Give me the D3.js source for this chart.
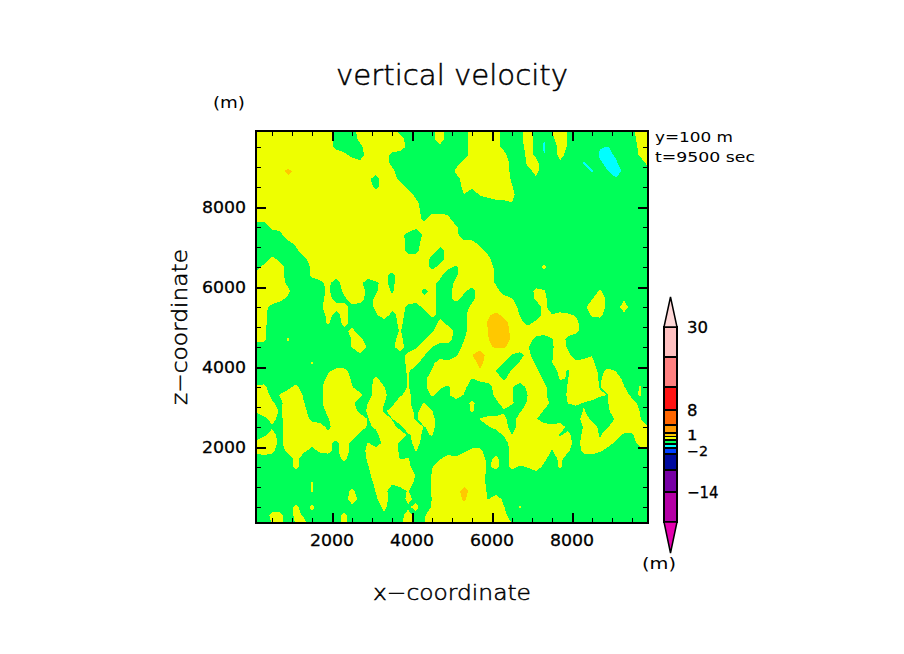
<!DOCTYPE html>
<html>
<head>
<meta charset="utf-8">
<script src="https://cdn.jsdelivr.net/npm/d3@7"></script>
<style>
  html, body { margin: 0; background: #fff; }
  text { font-family: "DejaVu Sans", sans-serif; fill: #000; }
</style>
</head>
<body>
<div id="chart"></div>
<script>
// w on the 50x50 model grid (200 m spacing), in quarter m/s.
// rows run top (z=9900) to bottom (z=100), one array per quadrant
const wNW = [
  [2,2,2,2,2,2,2,2,2,1,-1,-2,-1,1,2,2,2,2,-1,-2,-2,-2,-1,2,-2],
  [2,2,2,2,2,2,2,2,2,2,-1,-2,-2,1,2,2,2,2,1,-1,-2,-2,-1,2,-2],
  [2,2,2,2,2,2,2,2,2,2,-1,-2,-2,-1,2,2,2,2,2,-1,-2,-2,-2,-1,-2],
  [2,2,2,2,2,2,2,2,2,2,2,1,-1,-2,2,2,2,-1,-2,-2,-2,-2,-2,-2,-2],
  [2,2,2,2,1,2,2,2,2,2,2,2,2,1,2,2,2,-1,-2,-2,-2,-2,-2,-2,-2],
  [2,2,2,3,5,3,2,2,2,2,2,2,2,2,2,2,2,1,-2,-2,-2,-2,-2,-2,-2],
  [2,2,2,2,3,2,2,2,2,2,2,2,2,2,1,-2,3,2,-1,-2,-2,-2,-2,-2,-2],
  [2,2,2,2,2,2,2,2,2,2,2,2,2,2,2,-1,2,2,2,-1,-2,-2,-2,-2,-2],
  [2,2,2,2,2,2,2,2,2,2,2,2,2,2,2,2,2,2,2,2,-1,-2,-2,-2,-2],
  [2,2,2,2,2,2,2,2,2,2,2,2,2,2,2,2,2,2,2,2,1,-2,-2,-2,-2],
  [2,2,2,2,2,2,2,2,2,2,2,2,2,2,2,2,2,2,2,2,2,-2,-1,-1,-1],
  [1,1,2,2,2,2,2,2,2,2,2,2,2,2,2,2,2,2,2,2,2,-1,2,2,1],
  [-2,-2,1,1,2,2,2,2,2,2,2,2,2,2,2,2,2,-0.2,2,2,1,2,2,2,2],
  [-2,-2,-2,-1,2,2,2,2,2,2,2,2,2,2,2,2,2,2,1,-1,-3,1,2,2,2],
  [-2,-2,-2,-2,-1,1,2,2,2,2,2,2,2,2,2,2,2,2,2,-1,-1,1,2,1,2],
  [-2,-2,-2,-2,-2,-1,2,2,2,2,2,2,2,2,2,2,2,2,2,-1,-1,2,1,-1,1],
  [-2,-2,1,-1,-2,-2,-1,2,2,2,2,2,2,2,2,2,2,2,2,2,2,2,-1,-1,1],
  [-1,1,2,1,-1,-2,-3,1,2,2,2,2,2,2,2,2,2,2,2,2,2,2,-1,1,1],
  [1,2,2,1,-1,-2,-3,1,2,2,2,2,2,2,2,2,1,-1,2,2,-0.2,2,2,1,-2],
  [2,2,2,2,-1,-2,-2,-2,-1,1,-2,2,2,1,-2,-0.5,1,-1,2,2,2,2,1,-1,-2],
  [2,2,2,2,1,-3,-2,-2,-2,1,-3,1,2,2,-1,-0.5,2,-0.5,2,2,2,-1,1,-1,-2],
  [2,2,2,1,-1,-2,-2,-2,-1,1,-1,-1,2,2,-2,1,2,1,2,2,2,1,1,-1,-1],
  [2,1,-1,-2,-2,-2,-2,-2,-1,2,1,1,-1,-2,-2,1,2,1,2,-1,-2,1,1,-1,-2],
  [2,1,-2,-2,-2,-2,-2,-2,-2,1,-1,1,-1,-2,-2,-0.5,2,-1,1,-1,-2,-2,1,-1,-2],
  [2,1,-2,-2,-2,-2,-2,-2,-2,0.5,-2,1,-1,-2,-2,-2,-2,-2,1,-2,-2,-2,-2,1,-1]
];
const wNE = [
  [-2,-1,1,2,2,1,-1,-2,-1,2,-1,-2,0.2,2,-0.2,-2,-2,-2,-2,-2,-2,-2,-1,2,2],
  [-2,-1,1,2,2,1,-1,-2,-1,2,-1,-4.1,-1,2,-0.2,-2,-2,-2,-2,-2,-2,-2,-1,1,2],
  [-2,-1,1,2,2,1,-1,-2,-2,2,-1,-4.3,-2,1,-0.2,-2,-2,-2,-3.8,-4.1,-3,-2,-2,1,2],
  [-2,-1,1,2,2,2,1,-2,-2,1,-0.5,-4.1,-2,1,-1,-2,-2,-2,-4.5,-5,-3.5,-2,-2,0.5,2],
  [-1,1,2,2,2,2,2,-1,-3,1,1,-2,-2,-0.5,-2,-2,-4.5,-2,-3.5,-5,-4.5,-2,-2,-2,1],
  [0.5,2,2,2,2,2,2,-1,-2,-1,1,-2,-2,-2,-2,-2,-2,-4.3,-2.5,-4,-5,-3.5,-2,-2,-0.5],
  [-1,1,2,2,2,2,2,-0.5,-2,-2,-0.5,-2,-2,-2,-2,-2,-2,-3,-2,-3,-3.8,-2.5,-2,-2,-2],
  [-2,1,0.5,2,2,2,2,0.2,-2,-2,-2,-2,-2,-2,-2,-2,-2,-2,-2,-2,-2,-2,-2,-2,-2],
  [-2,-0.1,-2,0.2,1,1.5,2,1,-2,-2,-2,-2,-2,-2,-2,-2,-2,-2,-2,-2,-2,-2,-2,-2,-2],
  [-2,-2,-2,-2,-2,-1,-1,-0.1,-2,-2,-2,-2,-2,-2,-2,-2,-2,-2,-2,-2,-2,-2,-2,-2,-2],
  [-2,-2,-2,-2,-2,-2,-2,-2,-2,-2,-2,-2,-2,-2,-2,-2,-2,-2,-2,-2,-2,-2,-2,-2,-2],
  [-2,-2,-2,-2,-2,-2,-2,-2,-2,-2,-2,-2,-2,-2,-2,-2,-2,-2,-2,-2,-2,-2,-2,-2,-2],
  [0.5,-2,-2,-2,-2,-2,-2,-2,-2,-2,-2,-2,-2,-2,-2,-2,-2,-2,-2,-2,-2,-2,-2,-2,-2],
  [1,-2,-2,-2,-2,-2,-2,-2,-2,-2,-2,-2,-2,-2,-2,-2,-2,-2,-2,-2,-2,-2,-2,-2,-2],
  [2,1,1,-1,-2,-2,-2,-2,-2,-2,-2,-2,-2,-2,-2,-2,-2,-2,-2,-2,-2,-2,-2,-2,-2],
  [2,2,2,1,-1,-2,-2,-2,-2,-2,-2,-2,-2,-2,-2,-2,-2,-2,-2,-2,-2,-2,-2,-2,-2],
  [2,2,2,2,1,-2,-2,-2,-2,-2,-2,-2,-2,-2,-2,-2,-2,-2,-2,-2,-2,-2,-2,-2,-2],
  [-0.5,2,2,2,2,-1,-2,-2,-2,-2,-2,0.7,-2,-2,-2,-2,-2,-2,-2,-2,-2,-2,-2,-2,-2],
  [-0.5,2,2,2,2,-0.5,-2,-2,-2,-2,-2,-2,-2,-2,-2,-2,-2,-2,-2,-2,-2,-2,-2,-2,-2],
  [1,2,2,2,2,-0.5,-2,-2,-2,-2,-2,-2,-2,-2,-2,-2,-2,-2,-2,-2,-2,-2,-2,-2,-2],
  [2,0.5,-1.5,2,2,1.5,-2,-2,-2,-2,1,0.3,-2,-2,-2,-2,-2,-2,0.5,-2,-2,-2,-2,-2,-2],
  [1,-1,-1,2,2,2,2,0.2,-2,-2,0.5,1,-2,-2,-2,-2,-2,-0.2,2,-1,-2,-0.5,-2,-2,-2],
  [-2,-2,1,2,2,2,2,2,-1,-2,-2,1,-2,-2,-2,-2,-1,2,2,-1,-2,2,-2,-2,-2],
  [-2,-1,2,2,3.5,5,3,2,-0.2,-2,-2,1,0.2,1,0.5,-0.3,-2,0.5,1,-2,-2,-1,-2,-2,-2],
  [-2,-1,2,2,4.3,6,5,3,1,-1,1,2,2,2,2,1,-2,-2,-2,-2,-2,-2,-2,-2,-2]
];
const wSW = [
  [2,1,-3,-2,-1,-2,-2,-2,-2,-2,-2,-1,1,-2,-2,-2,-2,-2,0.3,-2,-2,-2,-0.5,2,2],
  [1,1,-3,-2,0.3,-2,-2,-2,-2,-2,-2,-2,0.2,1,-2,-2,-2,-1,1,-2,-2,-0.5,2,2,2],
  [-2,-2,-2,-2,-0.5,-2,-2,-2,-2,-2,-2,-2,0.2,2,-0.5,-2,-2,-0.5,1,-1,-0.5,2,0.1,-2,-2],
  [-2,-2,-2,-2,-2,-2,-2,-2,-2,-2,-2,-2,-2,-0.5,-2,-2,-2,-2,-1,0.5,2,0.3,-2,-2,-2],
  [-2,-2,-2,-2,-2,-2,-2,0.3,-2,-2,-2,-2,-2,-2,-2,-2,-2,-2,-2,1,1,-2,-1,2,1],
  [-2,-2,-2,-2,-2,-2,-2,-2,-2,-0.5,1,1,-1,-2,-2,-2,-2,-2,-2,0.5,-2,-2,0.3,2,2],
  [-2,-2,-2,-2,-2,-2,-2,-2,-2,1,2,2,-0.5,-2,-2,1,-2,-2,-2,0.3,-2,-1,2,2,2],
  [0.5,1,-2,-2,-1,1,-2,-2,-1,2,2,2,0.2,-2,-2,2,0.2,-2,-2,0.3,-2,-1,2,0.4,-0.5],
  [0.5,2,-1,0.2,2,2,-0.5,-2,-1,2,2,2,2,1,-2,2,1,-2,-0.5,1,-2,-2,0.5,-1,-0.5],
  [0.5,2,0.5,-1,2,2,0.1,-2,-1,2,2,2,1,-2,0.1,2,0.1,-1,2,1,-2,0.2,-2,-2,-2],
  [0.5,2,2,-0.5,2,2,1,-2,-2,1,2,2,2,-1,0.3,2,-0.5,1,2,2,-1,2,0.1,-2,-2],
  [-2,-1,1,-1,2,2,2,-1,-2,-0.3,2,2,2,2,-0.2,2,2,-0.1,2,2,-0.5,2,1,-2,-2],
  [-2,-2,-0.3,-1,2,2,2,2,2,-1,2,2,2,2,-0.5,0.5,2,1,-1,2,2,-0.2,1,-2,-2],
  [-2,-0.5,1,-1,2,2,2,2,2,1,2,2,2,-1,-2,-1,2,2,2,-0.5,1,-0.5,0.2,-2,-2],
  [1,2,2,-1,2,2,2,1,2,1,-1,2,-1,-2,0.2,-2,1,2,-0.5,-1,1,-1,-2,-2,-2],
  [1,2,1,-2,1,1,0.5,-1,0.5,1,-1,2,-1,-2,1,2,2,2,-0.5,-2,0.1,-2,-2,-2,-2],
  [-2,-2,-2,-2,-2,1,-2,-2,-2,-2,-2,1,-2,-2,0.5,2,2,2,-0.1,0.3,-2,-2,-2,-0.2,2],
  [-2,-2,-2,-2,-2,1,-2,-2,-2,-2,-2,-2,-2,-2,-0.2,2,2,2,2,1,-2,-2,-0.2,2,2],
  [-2,-2,-2,-2,-2,-2,-2,-2,-2,-2,-2,-2,-2,-2,-1,2,2,2,2,2,-0.2,-2,0.2,2,2],
  [-2,-2,-2,-2,-2,-2,-2,0.3,-2,-2,-2,-2,-2,-2,-2,1,2,0.5,1,2,-1,-2,0.2,2,2],
  [-2,-2,-2,-2,-2,-2,-2,0.3,-2,-2,-2,-2,1,-2,-2,0.2,1.5,-2,-1,0.2,-2,-2,0.2,2,2],
  [-2,-2,-2,-2,-2,-2,-2,-2,-2,0.2,-2,-2,2,-1,-2,-0.5,2,-2,-2,1,-1,-2,0.1,2,2],
  [-2,-2,-2,-2,-2,1,-2,1,-2,-2,-2,-2,-1,-2,-2,-2,1,-2,-2,-0.5,1,-2,0.2,2,2],
  [-2,-2,1,1,-2,1,-0.5,-1,-2,-2,-2,1,-2,-2,-2,-2,-0.5,-2,-1,1,-1,-0.5,2,2,2],
  [0.2,-2,0.2,1,-2,0.3,1,-2,-2,-2,-2,1,-2,-2,-2,-2,-2,-2,-0.5,1,-1,-0.2,2,2,2]
];
const wSE = [
  [-1,-1,2,3,4,5,5,3.5,2,2,2,2,2,2,2,1,-2,-2,-2,-2,-2,-2,0.2,-2,-2],
  [-2,-0.2,2,3,3.9,5,5,3.7,2,2,-1,-2,-0.2,2,-1,-2,-2,-2,-2,-2,-2,-2,-2,-2,-2],
  [-2,1,2,3,3.5,4.4,4.4,2.5,2,0.2,-2,-2,-0.5,2,-0.5,-2,-2,-2,-2,-2,-2,-2,-2,-2,-2],
  [-0.5,2,3.9,5.5,3,2,2,-0.2,-1,1,-2,-2,-0.2,2,1,-2,-2,-0.2,-2,-2,-2,-2,-2,-2,-2],
  [2,2,3,4.6,3,2,-0.1,-1,0.3,2,-0.5,-2,-0.1,2,2,1,2,1,-2,-2,-2,-2,-2,-2,-2],
  [2,2,2,3.8,2,-0.1,-1,0.2,2,2,1,-2,-2,1,-0.3,2,2,2,-1,1,-0.1,-2,-2,-2,-2],
  [2,2,-0.2,1,1,2,-0.5,2,2,2,2,-0.5,-2,0.2,-0.1,2,2,2,-0.5,2,2,-1,-2,-2,-2],
  [2,1,-2,-2,-1,1,2,0.2,-2,1,2,1,-2,-2,0.3,2,2,2,-0.3,2,2,0.2,-2,0.3,-2],
  [2,-0.2,-2,-2,-2,1,2,0.3,-2,0.1,2,1,-2,-2,0.5,2,2,2,0.6,-0.1,2,2,-1,0.3,-2],
  [-2,-2,1,-2,-2,-1,2,0.5,-2,0.5,2,2,-1,-2,0.1,1,-0.2,-1,-2,-0.1,2,2,1.5,-1,-2],
  [-2,-2,0.5,-2,-2,-2,-0.5,-2,-0.5,2,2,-0.3,-2,-2,-2,-2,0.3,-2,-2,-0.5,2,2,2,-0.1,-2],
  [-2,-2,-2,0.2,1,1,1,-2,2,2,0.3,-2,-2,-2,-2,-2,2,-1,-2,-2,0.5,2,2,0.2,-2],
  [-2,-2,-2,-2,-0.2,1,2,-2,2,2,2,2,1,2,-1,-2,0.3,2,-1,-0.2,2,2,2,2,0.3],
  [-2,-2,-2,-2,-2,-2,0.5,0.1,2,2,2,2,2,-0.3,1,-2,1,2,-0.3,2,1,-0.5,-0.5,2,2],
  [-2,-2,-2,-2,-2,-2,-2,2,2,2,2,2,2,2,1,-1,1,2,0.3,1,-0.5,-2,-1,1,2],
  [-2,-0.5,1,1,-2,-1,-2,1,2,2,2,2,-0.3,2,0.5,-2,1,1.5,0.3,-1,-2,-2,-2,-1,-1],
  [1,2,2,2,-1,1,-2,1,2,2,2,1,-2,1,-2,-2,-2,-2,-2,-2,-2,-2,-2,-2,-2],
  [2,2,2,2,-0.5,1,-2,1,-0.5,0.2,2,-1,-2,0.5,-2,-2,-2,-2,-2,-2,-2,-2,-2,-2,-2],
  [2,2,2,2,-1,-2,-2,-2,-2,-2,-2,-2,-2,-2,-2,-2,-2,-2,-2,-2,-2,-2,-2,-2,-2],
  [2,3,2,2,-1,-2,-2,-2,-2,-2,-2,-2,-2,-2,-2,-2,-2,-2,-2,-2,-2,-2,-2,-2,-2],
  [3,5,3,2,-0.5,-2,-2,-2,-2,-2,-2,-2,-2,-2,-2,-2,-2,-2,-2,-2,-2,-2,-2,-2,-2],
  [2.5,4.5,2.5,2,-0.2,2,-1,-2,-2,-2,-2,-2,-2,-2,-2,-2,-2,-2,-2,-2,-2,-2,-2,-2,-2],
  [2,3,2,2,1.5,2,0.1,-2,0.3,-2,-2,-2,-2,-2,-2,-2,-2,-2,-2,-2,-2,-2,-2,-2,-2],
  [2,2,2,2,2,2,1,-2,-2,-2,-2,-2,-2,-2,-2,-2,-2,-2,-2,-2,-2,-2,-2,-2,-2],
  [2,2,2,2,2,2,2,-0.1,-2,-2,-2,-2,-2,-2,-2,0.1,-2,-2,-2,-2,-2,-2,-2,0.1,-2]
];

const majorTicks = [2000, 4000, 6000, 8000];
const minorTicks = [500, 1000, 1500, 2500, 3000, 3500, 4500, 5000, 5500, 6500, 7000, 7500, 8500, 9000, 9500];

// colour bar, top to bottom
const barLevels = [30, 20, 14, 8, 4, 2, 1, 0, -1, -2, -4, -8, -14, -30];
const barLabels = [30, 8, 1, -2, -14];
const barColors = ["#ffc0c0", "#ff8080", "#ff1414", "#ff6600", "#ff9900", "#ffc800", "#eeff00",
  "#00ff58", "#00ffff", "#0040ff", "#000a9e", "#7700a5", "#b400a5"];
const topColor = "#ffd8d8", bottomColor = "#e400af";

const width = 904, height = 654;
const svg = d3.select("#chart").append("svg")
  .attr("width", width).attr("height", height)
  .style("display", "block");

const x = d3.scaleLinear().domain([100, 9900]).range([256, 648]);
const z = d3.scaleLinear().domain([100, 9900]).range([523, 131]);

// stitch the quadrants into the flat array d3.contours wants
const flat = [];
wNW.concat(wSW).forEach((row, j) => {
  const right = j < 25 ? wNE[j] : wSE[j - 25];
  if (row.length !== 25 || right.length !== 25) throw new Error("bad row " + j);
  row.concat(right).forEach(v => flat.push(v * 0.25));
});

const gridPath = d3.geoPath(d3.geoTransform({
  point(cx, cy) {
    this.stream.point(x(100 + (cx - 0.5) * 200), z(9900 - (cy - 0.5) * 200));
  }
}));

svg.append("clipPath").attr("id", "plot-clip").append("rect")
  .attr("x", x(100)).attr("y", z(9900))
  .attr("width", x(9900) - x(100)).attr("height", z(100) - z(9900));

// low to high so each level paints over the one below
const levelsUp = barLevels.slice().reverse();
const colorsUp = barColors.slice().reverse();
const bands = d3.contours().size([50, 50]).thresholds(levelsUp.slice(0, -1))(flat);

svg.append("g").attr("clip-path", "url(#plot-clip)")
  .selectAll("path").data(bands).join("path")
  .attr("d", gridPath)
  .attr("fill", (d, i) => colorsUp[i])
  .attr("shape-rendering", "crispEdges");

// ticks on all four sides, pointing in
function tickSet(axis, values, size, weight) {
  return g => {
    g.call(axis.tickValues(values).tickSize(-size).tickFormat(""));
    g.select(".domain").remove();
    g.selectAll("line").attr("stroke", "#000").attr("stroke-width", weight)
      .attr("shape-rendering", "crispEdges");
  };
}
const sides = [
  [d3.axisBottom, x, `translate(0,${z(100)})`],
  [d3.axisTop, x, `translate(0,${z(9900)})`],
  [d3.axisLeft, z, `translate(${x(100)},0)`],
  [d3.axisRight, z, `translate(${x(9900)},0)`]
];
sides.forEach(([makeAxis, scale, t]) => {
  svg.append("g").attr("transform", t).call(tickSet(makeAxis(scale), minorTicks, 5, 1));
  svg.append("g").attr("transform", t).call(tickSet(makeAxis(scale), majorTicks, 10, 2));
});

svg.append("rect")
  .attr("x", x(100)).attr("y", z(9900))
  .attr("width", x(9900) - x(100)).attr("height", z(100) - z(9900))
  .attr("fill", "none").attr("stroke", "#000").attr("stroke-width", 2)
  .attr("shape-rendering", "crispEdges");

// the reference font is a wide vector face, so stretch glyphs to the measured width
function label(px, py, str, size, len, anchor) {
  const t = svg.append("text").attr("x", px).attr("y", py)
    .attr("font-size", size).text(str);
  if (anchor) t.attr("text-anchor", anchor);
  if (len) t.attr("textLength", len).attr("lengthAdjust", "spacingAndGlyphs");
  return t;
}
const firm = (t, w) => t.attr("stroke", "#000").attr("stroke-width", w);

majorTicks.forEach(v => {
  firm(label(x(v), 546, v, 16, 44, "middle"), 0.3);
  firm(label(246, z(v) + 6, v, 16, 44, "end"), 0.3);
});

firm(label(452, 85, "vertical velocity", 28, 232, "middle").attr("font-weight", 200), 0.5);
firm(label(452, 600, "x\u2212coordinate", 22, 158, "middle").attr("font-weight", 200), 0.5);
firm(label(0, 0, "z\u2212coordinate", 22, 156, "middle").attr("font-weight", 200), 0.5)
  .attr("transform", `translate(187,327) rotate(-90)`);
label(213, 108, "(m)", 15, 32);
label(642, 569, "(m)", 15, 34);
label(655, 142, "y=100 m", 14, 78);
label(655, 162, "t=9500 sec", 14, 100);

// colour bar
const barY = d3.scaleLinear().domain(barLevels)
  .range([327, 357, 387, 410, 425, 433, 436.5, 440, 444, 448, 454, 470, 492, 522]);
const barLeft = 664, barRight = 677, barMid = 670.5;

const bar = svg.append("g").attr("shape-rendering", "crispEdges");
bar.selectAll("rect").data(d3.pairs(barLevels)).join("rect")
  .attr("x", barLeft).attr("width", barRight - barLeft)
  .attr("y", d => barY(d[0]))
  .attr("height", d => barY(d[1]) - barY(d[0]))
  .attr("fill", (d, i) => barColors[i])
  .attr("stroke", "#000").attr("stroke-width", 1.5);

const tips = [
  [[barLeft, barY(30)], [barMid, 297], [barRight, barY(30)], topColor],
  [[barLeft, barY(-30)], [barMid, 553], [barRight, barY(-30)], bottomColor]
];
svg.selectAll("path.tip").data(tips).join("path")
  .attr("class", "tip")
  .attr("d", d => d3.line()(d.slice(0, 3)) + "Z")
  .attr("fill", d => d[3])
  .attr("stroke", "#000").attr("stroke-width", 1.5);

// 1 and -2 sit almost on top of each other, so they are a little smaller and pushed apart
barLabels.forEach(v => {
  const str = v < 0 ? "\u2212" + Math.abs(v) : String(v);
  const tight = v === 1 || v === -2;
  const dy = v === 1 ? 3 : v === -2 ? 8 : 6;
  firm(label(687, barY(v) + dy, str, tight ? 14 : 16, str.length * 10.5), 0.3);
});
</script>
</body>
</html>
